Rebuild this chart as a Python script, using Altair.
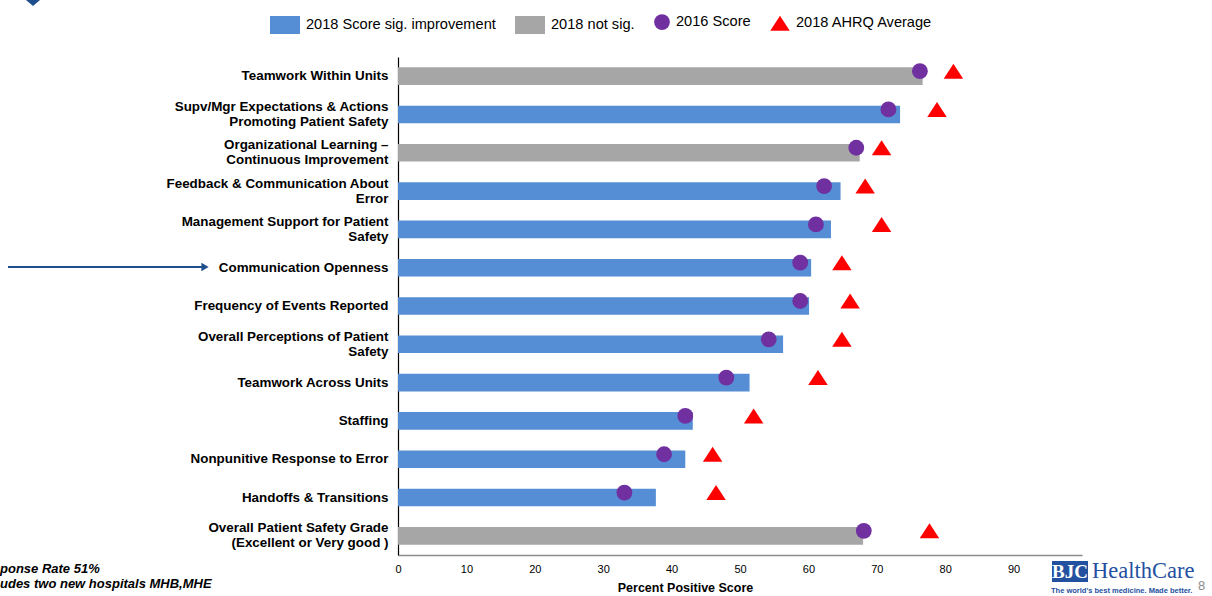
import altair as alt
import pandas as pd

# ---- data ----
categories = [
    "Teamwork Within Units",
    "Supv/Mgr Expectations & Actions\nPromoting Patient Safety",
    "Organizational Learning –\nContinuous Improvement",
    "Feedback & Communication About\nError",
    "Management Support for Patient\nSafety",
    "Communication Openness",
    "Frequency of Events Reported",
    "Overall Perceptions of Patient\nSafety",
    "Teamwork Across Units",
    "Staffing",
    "Nonpunitive Response to Error",
    "Handoffs & Transitions",
    "Overall Patient Safety Grade\n(Excellent or Very good )",
]
score_2018 = [76.7, 73.4, 67.5, 64.7, 63.3, 60.4, 60.1, 56.3, 51.4, 43.1, 42.0, 37.7, 68.0]
sig_2018 = [False, True, False, True, True, True, True, True, True, True, True, True, False]
score_2016 = [76.3, 71.7, 67.0, 62.3, 61.1, 58.8, 58.8, 54.2, 48.0, 42.0, 38.9, 33.1, 68.1]
ahrq_2018 = [81.2, 78.8, 70.7, 68.3, 70.7, 64.9, 66.1, 64.9, 61.4, 52.0, 46.0, 46.5, 77.7]

series_names = ["2018 Score sig. improvement", "2018 not sig.", "2016 Score", "2018 AHRQ Average"]
series_colors = ["#558ED5", "#A6A6A6", "#7030A0", "#FF0000"]
x_ticks = [0, 10, 20, 30, 40, 50, 60, 70, 80, 90]

rect_path = "M-1,-0.6H1V0.6H-1Z"
tri_path = "M-1,0.77L1,0.77L0,-0.77Z"
series_shapes = [rect_path, rect_path, "circle", tri_path]
series_sizes = [900, 900, 250, 380]

# ---- tables ----
bars_df = pd.DataFrame({
    "category": categories,
    "value": score_2018,
    "series": [series_names[0] if s else series_names[1] for s in sig_2018],
})
markers_df = pd.concat([
    pd.DataFrame({"category": categories, "value": score_2016, "series": series_names[2]}),
    pd.DataFrame({"category": categories, "value": ahrq_2018, "series": series_names[3]}),
], ignore_index=True)

FONT = "Liberation Sans"

legend_kw = dict(
    title=None, orient="none", legendX=-128, legendY=-47, direction="horizontal",
    labelFontSize=14.6, labelFont=FONT, labelColor="#000000", labelOffset=6,
    columnPadding=19, padding=0, symbolStrokeWidth=0, symbolOpacity=1,
    labelLimit=400,
)

color_enc = alt.Color("series:N", scale=alt.Scale(domain=series_names, range=series_colors),
                      legend=alt.Legend(**legend_kw))
shape_enc = alt.Shape("series:N", scale=alt.Scale(domain=series_names, range=series_shapes),
                      legend=alt.Legend(**legend_kw))
size_enc = alt.Size("series:N", scale=alt.Scale(type="ordinal", domain=series_names, range=series_sizes),
                    legend=alt.Legend(**legend_kw))

y_enc = alt.Y(
    "category:N", sort=categories, title=None,
    scale=alt.Scale(paddingInner=0.54, paddingOuter=0.27),
    axis=alt.Axis(
        labelExpr="split(datum.label, '\\n')", labelFont=FONT, labelFontSize=13.4,
        labelFontWeight="bold", labelColor="#000000", labelPadding=10, labelLimit=400,
        labelLineHeight=15, ticks=False, domainColor="#000000", domainWidth=1.2, grid=False,
        labelOffset={"condition": {"test": "indexof(datum.value, '\\n') >= 0", "value": -7.5},
                     "value": 0},
    ),
)
x_enc = alt.X(
    "value:Q", scale=alt.Scale(domain=[0, 100], nice=False, zero=True),
    title="Percent Positive Score",
    axis=alt.Axis(
        values=x_ticks, labelFont=FONT, labelFontSize=11, labelColor="#000000", labelFlush=False,
        labelPadding=8, ticks=False, grid=False, domainColor="#8C8C8C", domainWidth=1.5,
        titleFont=FONT, titleFontSize=12.5, titleFontWeight="bold", titleColor="#000000",
        titlePadding=7, titleX=287, titleAnchor="start", titleAlign="center",
    ),
)

bars = alt.Chart(bars_df).mark_bar().encode(x=x_enc, y=y_enc, color=color_enc)

markers = alt.Chart(markers_df).mark_point(filled=True, opacity=1, strokeWidth=0, yOffset=-5).encode(
    x=x_enc, y=y_enc, color=color_enc, shape=shape_enc, size=size_enc,
)

one = pd.DataFrame({"k": [0]})
NAVY = "#1F4E8C"
LOGO = "#23509F"


def txt(text, x, y, size, **kw):
    return alt.Chart(one).mark_text(fontSize=size, **kw).encode(
        x=alt.value(x), y=alt.value(y), text=alt.value(text))


annots = [
    # arrow pointing at Communication Openness
    alt.Chart(one).mark_rule(color=NAVY, strokeWidth=2).encode(
        x=alt.value(-390), x2=alt.value(-196), y=alt.value(210)),
    alt.Chart(one).mark_point(shape="triangle-right", filled=True, color=NAVY, opacity=1, size=70).encode(
        x=alt.value(-193), y=alt.value(210)),
    # top-left chevron
    alt.Chart(one).mark_point(shape="M-1,-0.43L1,-0.43L0,0.43Z", filled=True, color=NAVY, opacity=1,
                              size=784).encode(x=alt.value(-365), y=alt.value(-57)),
    # footnotes
    txt("ponse Rate 51%", -398, 512, 13, align="left", baseline="middle", font=FONT,
        fontWeight="bold", fontStyle="italic", color="#000000"),
    txt("udes two new hospitals MHB,MHE", -398, 527, 13, align="left", baseline="middle", font=FONT,
        fontWeight="bold", fontStyle="italic", color="#000000"),
    # logo
    alt.Chart(one).mark_rect(color=LOGO).encode(
        x=alt.value(654), x2=alt.value(690), y=alt.value(504), y2=alt.value(525)),
    txt("BJC", 672, 515, 19, align="center", baseline="middle", font="Liberation Serif",
        fontWeight="bold", color="#FFFFFF"),
    txt("HealthCare", 694, 514, 22.5, align="left", baseline="middle", font="Liberation Serif",
        color=LOGO),
    txt("The world's best medicine. Made better.", 653, 534, 7.5, align="left", baseline="middle",
        font=FONT, fontWeight="bold", color=LOGO),
    txt("8", 800, 529, 13, align="left", baseline="middle", font=FONT, color="#8C8C8C"),
]

chart = alt.layer(bars, markers, *annots).properties(
    width=684, height=498,
    padding={"left": 398, "top": 57, "right": 130, "bottom": 41},
    autosize=alt.AutoSizeParams(type="none"),
    background="#FFFFFF",
).configure_view(stroke=None)

chart.save("out.html", embed_options={"renderer": "svg", "actions": False})
